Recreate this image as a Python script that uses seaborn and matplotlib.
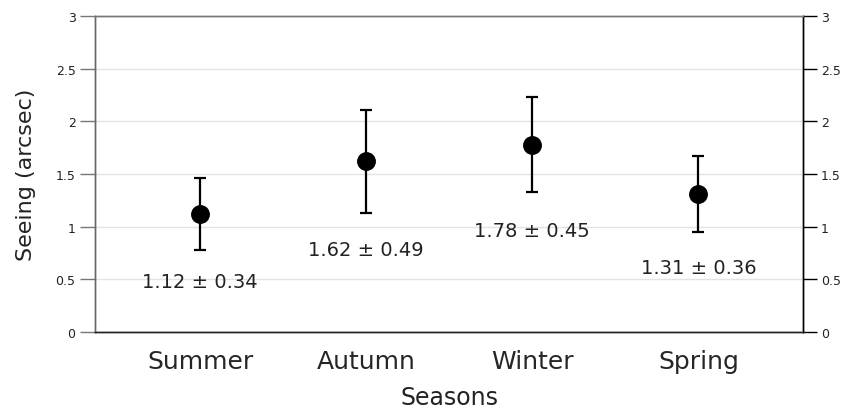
import matplotlib
matplotlib.use("Agg")
import matplotlib.pyplot as plt
import seaborn as sns
import pandas as pd

seasons = ["Summer", "Autumn", "Winter", "Spring"]
seeing_mean = [1.12, 1.62, 1.78, 1.31]
seeing_std = [0.34, 0.49, 0.45, 0.36]
label_y = [0.48, 0.78, 0.96, 0.61]
yticks = [0, 0.5, 1, 1.5, 2, 2.5, 3]
ytick_labels = ["0", "0.5", "1", "1.5", "2", "2.5", "3"]

df = pd.DataFrame({"pos": range(len(seasons)), "season": seasons,
                   "mean": seeing_mean, "std": seeing_std})

sns.set_style("white")
plt.rcParams["font.family"] = ["DejaVu Sans"]

fig = plt.figure(figsize=(8.42, 4.10), dpi=100)
ax = fig.add_axes([95 / 842, 1 - 333 / 410, 708 / 842, 316 / 410])

ax.errorbar(df["pos"], df["mean"], yerr=df["std"], fmt="none",
            ecolor="black", elinewidth=1.6, capsize=4, capthick=1.6, zorder=3)
sns.scatterplot(data=df, x="pos", y="mean", ax=ax, color="black", s=185,
                edgecolor="black", linewidth=0, zorder=4, legend=False)

for p, m, s, ly in zip(df["pos"], seeing_mean, seeing_std, label_y):
    ax.text(p, ly, f"{m:.2f} \u00b1 {s:.2f}", ha="center", va="center",
            fontsize=14, color="#222222")

ax.set_xlim(-0.633, 3.63)
ax.set_ylim(0, 3)
ax.set_xticks(df["pos"])
ax.set_xticklabels(seasons, fontsize=18)
ax.set_yticks(yticks)
ax.set_yticklabels(ytick_labels, fontsize=9)
ax.yaxis.grid(True, color="#e3e3e3", linewidth=1)
ax.set_axisbelow(True)

ax.tick_params(axis="x", length=9, width=1, color="#555555", pad=3)
ax.tick_params(axis="y", length=11, width=1, color="#777777", pad=3,
               labelsize=9, labelcolor="#222222")

ax2 = ax.twinx()
ax2.set_ylim(0, 3)
ax2.set_yticks(yticks)
ax2.set_yticklabels(ytick_labels, fontsize=9)
ax2.tick_params(axis="y", length=10, width=1, color="black", pad=3,
                labelcolor="#222222")

for a in (ax, ax2):
    a.spines["left"].set_color("#666666")
    a.spines["top"].set_color("#777777")
    a.spines["right"].set_color("black")
    a.spines["bottom"].set_color("#222222")
    for sp in a.spines.values():
        sp.set_linewidth(1)

ax.set_xlabel("Seasons", fontsize=17, color="#222222", labelpad=9)
ax.set_ylabel("Seeing (arcsec)", fontsize=16, color="#222222", labelpad=14)

fig.savefig("out.png", dpi=100)
